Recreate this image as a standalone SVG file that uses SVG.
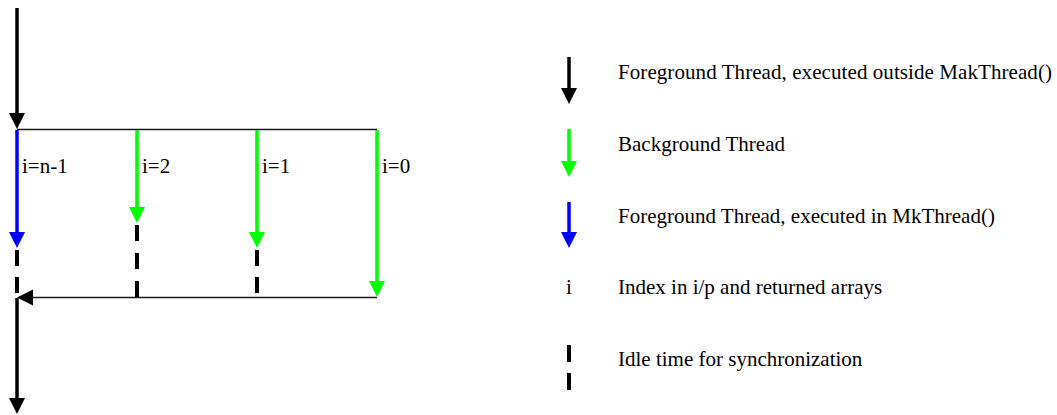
<svg xmlns="http://www.w3.org/2000/svg" width="1057" height="415" viewBox="0 0 1057 415">
  <style>
    .lbl { font-family: 'Liberation Serif', 'Times New Roman', Times, 'DejaVu Serif', serif; font-size: 21px; fill: #000; }
    .fg { stroke: #000; stroke-width: 3.5; fill: none; }
    .bg { stroke: #00ff00; stroke-width: 3.5; fill: none; }
    .mk { stroke: #0000ff; stroke-width: 3.5; fill: none; }
    .bar { stroke: #1a1a1a; stroke-width: 1.6; fill: none; }
    .idle { stroke: #000; stroke-width: 4; fill: none; }
    .headK { fill: #000; }
    .headG { fill: #00ff00; }
    .headB { fill: #0000ff; }
  </style>
  <defs>
    <!-- downward arrowhead, tip at origin -->
    <path id="down" d="M -8 -16 L 8 -16 L 0 0 Z"/>
    <!-- leftward arrowhead, tip at origin -->
    <path id="left" d="M 0 0 L 16 -8 L 16 8 Z"/>
  </defs>

  <!-- fork / join bars -->
  <g id="connectors">
    <line class="bar" x1="17" y1="129.5" x2="377" y2="129.5"/>
    <line class="bar" x1="20" y1="297.5" x2="377" y2="297.5"/>
    <use href="#left" class="headK" x="17" y="297.5"/>
  </g>

  <!-- main foreground thread before the fork -->
  <g id="main-in">
    <line class="fg" x1="17" y1="8" x2="17" y2="116"/>
    <use href="#down" class="headK" x="17" y="129"/>
  </g>

  <!-- main foreground thread after the join -->
  <g id="main-out">
    <line class="fg" x1="17" y1="298" x2="17" y2="402"/>
    <use href="#down" class="headK" x="17" y="414"/>
  </g>

  <g class="lbl">
    <!-- i = n-1 : runs in the foreground -->
    <g id="thread-n-1">
      <line class="mk" x1="17" y1="130" x2="17" y2="236"/>
      <use href="#down" class="headB" x="17" y="248"/>
      <line class="idle" x1="17" y1="250" x2="17" y2="297" stroke-dasharray="16 11"/>
      <text x="22" y="173">i=n-1</text>
    </g>

    <!-- i = 2 -->
    <g id="thread-2">
      <line class="bg" x1="137" y1="130" x2="137" y2="211"/>
      <use href="#down" class="headG" x="137" y="223"/>
      <line class="idle" x1="137" y1="225" x2="137" y2="297" stroke-dasharray="16 12"/>
      <text x="142" y="173">i=2</text>
    </g>

    <!-- i = 1 -->
    <g id="thread-1">
      <line class="bg" x1="257" y1="130" x2="257" y2="236"/>
      <use href="#down" class="headG" x="257" y="248"/>
      <line class="idle" x1="257" y1="250" x2="257" y2="293" stroke-dasharray="16 11"/>
      <text x="262" y="173">i=1</text>
    </g>

    <!-- i = 0 -->
    <g id="thread-0">
      <line class="bg" x1="377" y1="130" x2="377" y2="285"/>
      <use href="#down" class="headG" x="377" y="297"/>
      <text x="382" y="173">i=0</text>
    </g>

    <!-- legend -->
    <g id="legend-foreground">
      <line class="fg" x1="569" y1="57" x2="569" y2="92"/>
      <use href="#down" class="headK" x="569" y="104"/>
      <text x="618" y="79" textLength="434" lengthAdjust="spacing">Foreground Thread, executed outside MakThread()</text>
    </g>
    <g id="legend-background">
      <line class="bg" x1="569" y1="129" x2="569" y2="165"/>
      <use href="#down" class="headG" x="569" y="177"/>
      <text x="618" y="151">Background Thread</text>
    </g>
    <g id="legend-mkthread">
      <line class="mk" x1="569" y1="202" x2="569" y2="236"/>
      <use href="#down" class="headB" x="569" y="248"/>
      <text x="618" y="223">Foreground Thread, executed in MkThread()</text>
    </g>
    <g id="legend-index">
      <text x="566" y="294">i</text>
      <text x="618" y="294">Index in i/p and returned arrays</text>
    </g>
    <g id="legend-idle">
      <line class="idle" x1="569" y1="345" x2="569" y2="390" stroke-dasharray="17 11"/>
      <text x="618" y="366">Idle time for synchronization</text>
    </g>
  </g>
</svg>
